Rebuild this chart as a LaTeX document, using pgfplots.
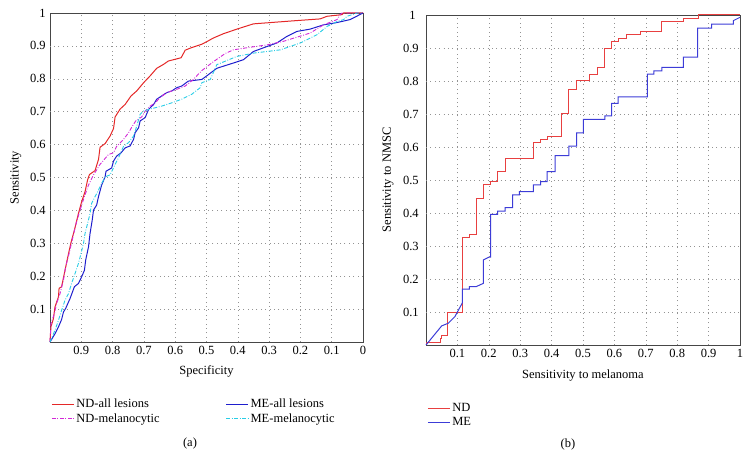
\documentclass[border=0pt]{standalone}
\usepackage{fontspec}
\setmainfont{Liberation Serif}
\usepackage{pgfplots}
\pgfplotsset{compat=1.18}
\definecolor{cRed}{RGB}{228,40,40}
\definecolor{cMag}{RGB}{210,40,215}
\definecolor{cBlue}{RGB}{30,30,205}
\definecolor{cCyan}{RGB}{40,205,230}
\definecolor{rRed}{RGB}{232,64,64}
\definecolor{rBlue}{RGB}{60,60,215}
\pgfplotsset{
  myax/.style={
    scale only axis,
    anchor=south west,
    clip=false,
    xmin=0, xmax=1, ymin=0, ymax=1,
    grid=major,
    major grid style={dash pattern=on 0.9pt off 3.5pt, gray!85},
    axis line style={draw=none},
    axis background/.style={draw=gray!55!black, line width=0.7pt},
    major tick length=0pt,
    extra tick style={grid=none},
    /pgf/number format/assume math mode=true,
    ticklabel style={font=\fontsize{12.5}{14}\selectfont},
    label style={font=\fontsize{12.5}{14}\selectfont},
    legend cell align=left,
    legend image code/.code={\draw[##1] (0pt,0pt) -- (22pt,0pt);},
  },
  ddot/.style={dash pattern=on 4pt off 1.6pt on 0.8pt off 1.6pt},
}
\begin{document}
\fontsize{12.5}{14}\selectfont
\begin{tikzpicture}
\path (0pt,0pt) rectangle (749pt,458pt);
\begin{axis}[myax,
  at={(50pt,116pt)}, width=313pt, height=329pt,
  x dir=reverse,
  xtick={0.1,0.2,...,0.9}, xticklabels={0.1,0.2,0.3,0.4,0.5,0.6,0.7,0.8,0.9},
  extra x ticks={0}, extra x tick labels={0},
  ytick={0.1,0.2,...,0.9}, yticklabels={0.1,0.2,0.3,0.4,0.5,0.6,0.7,0.8,0.9},
  extra y ticks={1}, extra y tick labels={1},
  xlabel={Specificity}, ylabel={Sensitivity},
  xlabel style={at={(axis description cs:0.5,-0.091)}, anchor=center},
  ylabel style={at={(axis description cs:-0.109,0.5)}, anchor=center},
  legend columns=2,
  legend style={at={(axis description cs:-0.006,-0.16)}, anchor=north west, draw=none, fill=none,
    font=\fontsize{12.5}{14}\selectfont,
    /tikz/every even column/.append style={column sep=64pt},
    row sep=0pt},
]
\addplot[cRed, line width=1pt] coordinates {
(1,0) (0.997,0.046) (0.989,0.071) (0.984,0.107) (0.973,0.137) (0.971,0.163) (0.963,0.168) (0.952,0.218) (0.943,0.259) (0.933,0.302) (0.922,0.340) (0.909,0.391) (0.899,0.426) (0.888,0.457) (0.880,0.492) (0.874,0.509) (0.856,0.521) (0.845,0.555) (0.840,0.592) (0.824,0.603) (0.808,0.626) (0.797,0.649) (0.792,0.684) (0.776,0.708) (0.760,0.722) (0.741,0.748) (0.723,0.763) (0.701,0.788) (0.680,0.809) (0.659,0.832) (0.637,0.844) (0.622,0.854) (0.581,0.864) (0.568,0.887) (0.547,0.895) (0.515,0.905) (0.499,0.913) (0.478,0.924) (0.446,0.937) (0.403,0.951) (0.350,0.967) (0.211,0.977) (0.137,0.982) (0.115,0.990) (0.067,0.995) (0.062,1.0) (0,1)};
\addlegendentry{ND-all lesions}
\addplot[cBlue, line width=1pt] coordinates {
(1,0) (0.984,0.025) (0.973,0.046) (0.963,0.068) (0.957,0.091) (0.950,0.102) (0.943,0.117) (0.936,0.132) (0.922,0.168) (0.909,0.178) (0.899,0.198) (0.890,0.218) (0.886,0.249) (0.877,0.289) (0.872,0.330) (0.865,0.371) (0.861,0.401) (0.851,0.416) (0.845,0.442) (0.835,0.477) (0.824,0.502) (0.821,0.519) (0.803,0.529) (0.797,0.550) (0.787,0.565) (0.773,0.575) (0.760,0.590) (0.744,0.596) (0.733,0.616) (0.728,0.636) (0.717,0.651) (0.712,0.672) (0.696,0.682) (0.685,0.707) (0.669,0.722) (0.659,0.738) (0.643,0.748) (0.627,0.758) (0.611,0.763) (0.595,0.773) (0.579,0.778) (0.558,0.793) (0.515,0.798) (0.499,0.809) (0.467,0.832) (0.414,0.848) (0.382,0.858) (0.350,0.883) (0.307,0.898) (0.275,0.909) (0.243,0.929) (0.211,0.944) (0.169,0.951) (0.126,0.964) (0.083,0.971) (0.041,0.980) (0,1)};
\addlegendentry{ME-all lesions}
\addplot[cMag, line width=0.9pt, ddot] coordinates {
(1,0) (0.997,0.056) (0.986,0.086) (0.979,0.117) (0.968,0.147) (0.957,0.188) (0.950,0.229) (0.939,0.269) (0.929,0.310) (0.918,0.355) (0.904,0.401) (0.890,0.442) (0.877,0.477) (0.861,0.508) (0.851,0.523) (0.840,0.540) (0.813,0.570) (0.797,0.575) (0.787,0.595) (0.765,0.616) (0.749,0.636) (0.737,0.656) (0.726,0.672) (0.707,0.684) (0.696,0.702) (0.680,0.717) (0.664,0.727) (0.648,0.743) (0.627,0.758) (0.595,0.768) (0.568,0.778) (0.542,0.798) (0.515,0.825) (0.478,0.852) (0.440,0.877) (0.414,0.888) (0.360,0.896) (0.307,0.903) (0.254,0.914) (0.169,0.939) (0.126,0.964) (0.083,0.980) (0.073,0.995) (0.067,1.0) (0,1)};
\addlegendentry{ND-melanocytic}
\addplot[cCyan, line width=0.9pt, ddot] coordinates {
(1,0) (0.984,0.036) (0.973,0.066) (0.963,0.096) (0.952,0.127) (0.941,0.147) (0.931,0.178) (0.920,0.208) (0.909,0.239) (0.901,0.269) (0.893,0.299) (0.888,0.330) (0.880,0.360) (0.872,0.391) (0.867,0.421) (0.856,0.442) (0.845,0.462) (0.835,0.482) (0.824,0.502) (0.808,0.508) (0.792,0.540) (0.781,0.560) (0.765,0.595) (0.749,0.606) (0.733,0.626) (0.723,0.656) (0.712,0.692) (0.701,0.702) (0.685,0.707) (0.664,0.712) (0.643,0.717) (0.611,0.727) (0.579,0.738) (0.547,0.753) (0.520,0.773) (0.515,0.788) (0.488,0.798) (0.467,0.843) (0.403,0.868) (0.350,0.878) (0.264,0.888) (0.200,0.909) (0.147,0.934) (0.115,0.959) (0.083,0.974) (0.062,0.980) (0.051,0.990) (0.019,1.0) (0,1)};
\addlegendentry{ME-melanocytic}
\end{axis}
\begin{axis}[myax,
  at={(426pt,113pt)}, width=314pt, height=330pt,
  xtick={0.1,0.2,...,0.9}, xticklabels={0.1,0.2,0.3,0.4,0.5,0.6,0.7,0.8,0.9},
  extra x ticks={1}, extra x tick labels={1},
  ytick={0.1,0.2,...,0.9}, yticklabels={0.1,0.2,0.3,0.4,0.5,0.6,0.7,0.8,0.9},
  extra y ticks={1}, extra y tick labels={1},
  yticklabel style={xshift=-3pt},
  extra y tick style={yticklabel style={xshift=-3pt}},
  xlabel={Sensitivity to melanoma}, ylabel={Sensitivity to NMSC},
  xlabel style={at={(axis description cs:0.5,-0.091)}, anchor=center},
  ylabel style={at={(axis description cs:-0.121,0.5)}, anchor=center},
  legend style={at={(axis description cs:-0.006,-0.163)}, anchor=north west, draw=none, fill=none,
    font=\fontsize{12.5}{14}\selectfont, row sep=0pt},
]
\addplot[rRed, line width=1pt, const plot mark left] coordinates {
(0,0) (0,0.008) (0.045,0.020) (0.050,0.028) (0.068,0.100) (0.116,0.327) (0.138,0.335) (0.161,0.444) (0.183,0.485) (0.206,0.495) (0.228,0.525) (0.252,0.564) (0.342,0.613) (0.365,0.624) (0.386,0.633) (0.432,0.702) (0.455,0.773) (0.480,0.801) (0.522,0.821) (0.547,0.841) (0.570,0.899) (0.591,0.919) (0.612,0.929) (0.639,0.941) (0.684,0.950) (0.751,0.980) (0.820,0.989) (0.867,1.0) (1,1.0)};
\addlegendentry{ND}
\addplot[rBlue, line width=1pt] coordinates {
(0,0) (0.050,0.058) (0.071,0.066) (0.092,0.086) (0.116,0.128) (0.116,0.169) (0.138,0.169) (0.138,0.177) (0.160,0.177) (0.183,0.187) (0.183,0.258) (0.200,0.266) (0.206,0.266) (0.206,0.396) (0.228,0.396) (0.228,0.406) (0.252,0.406) (0.252,0.416) (0.276,0.416) (0.276,0.455) (0.297,0.455) (0.297,0.465) (0.342,0.465) (0.342,0.485) (0.365,0.485) (0.365,0.495) (0.386,0.495) (0.386,0.525) (0.411,0.525) (0.411,0.574) (0.455,0.574) (0.455,0.603) (0.480,0.603) (0.480,0.643) (0.501,0.643) (0.501,0.684) (0.570,0.684) (0.570,0.694) (0.591,0.694) (0.591,0.732) (0.612,0.732) (0.612,0.752) (0.705,0.752) (0.705,0.821) (0.726,0.821) (0.726,0.831) (0.751,0.831) (0.751,0.841) (0.820,0.841) (0.820,0.872) (0.865,0.872) (0.865,0.960) (0.910,0.960) (0.910,0.972) (0.979,0.972) (0.979,0.983) (1,0.993)};
\addlegendentry{ME}
\end{axis}
\node[font=\fontsize{12.5}{14}\selectfont] at (190pt,15pt) {(a)};
\node[font=\fontsize{12.5}{14}\selectfont] at (568pt,14pt) {(b)};
\end{tikzpicture}
\end{document}
